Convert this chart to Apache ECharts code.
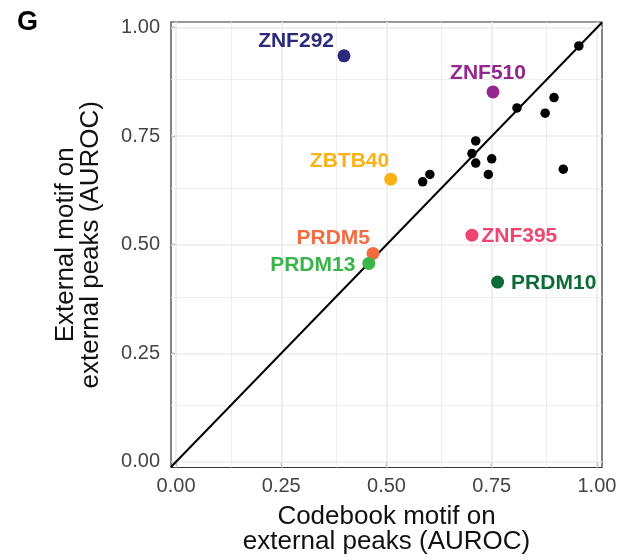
<!DOCTYPE html>
<html>
<head>
<meta charset="utf-8">
<script src="https://cdn.jsdelivr.net/npm/echarts@6/dist/echarts.min.js"></script>
<style>
  html, body { margin: 0; padding: 0; background: #fff; }
  #chart { width: 623px; height: 560px; }
</style>
</head>
<body>
<div id="chart"></div>
<script>
// other TFs (black points)
var otherX = [0.957, 0.810, 0.898, 0.877, 0.712, 0.703, 0.712, 0.750, 0.742, 0.920, 0.603, 0.586]
var otherY = [0.958, 0.815, 0.839, 0.803, 0.739, 0.710, 0.688, 0.698, 0.662, 0.674, 0.662, 0.645]

// highlighted TFs
var tfNames = ['ZNF292', 'ZNF510', 'ZBTB40', 'ZNF395', 'PRDM5', 'PRDM13', 'PRDM10']
var tfX = [0.399, 0.753, 0.510, 0.703, 0.468, 0.458, 0.764]
var tfY = [0.935, 0.852, 0.651, 0.522, 0.480, 0.457, 0.414]
var tfColors = ['#2D2A7B', '#93278F', '#FBB216', '#EE4571', '#F26C3F', '#3AB54A', '#0C6B37']

var tickValues = [0, 0.25, 0.5, 0.75, 1]
var minorValues = [0.125, 0.375, 0.625, 0.875]

// where each name sits next to its point (style only)
var labelPlace = {
  ZNF292: { align: 'right', offset: [-10, -14.5] },
  ZNF510: { align: 'center', offset: [-5, -18.5] },
  ZBTB40: { align: 'right', offset: [-1.5, -18] },
  ZNF395: { align: 'left', offset: [9.5, 1.5] },
  PRDM5: { align: 'right', offset: [-3, -15] },
  PRDM13: { align: 'right', offset: [-13.5, 2] },
  PRDM10: { align: 'left', offset: [13.5, 1.5] }
}

var xMin = -0.012, xMax = 1.012
var yMin = -0.013, yMax = 1.013
var font = '"Liberation Sans", Arial, Helvetica, sans-serif'

var gridLines = []
tickValues.forEach(function(v) {
  gridLines.push({ xAxis: v, lineStyle: { width: 1.6 } })
  gridLines.push({ yAxis: v, lineStyle: { width: 1.6 } })
})
minorValues.forEach(function(v) {
  gridLines.push({ xAxis: v, lineStyle: { width: 0.8 } })
  gridLines.push({ yAxis: v, lineStyle: { width: 0.8 } })
})

var chart = echarts.init(document.getElementById('chart'), null, { renderer: 'canvas' })

chart.setOption({
  animation: false,
  backgroundColor: '#fff',
  textStyle: { fontFamily: font },
  graphic: [{
    type: 'text',
    left: 17,
    top: 9,
    style: { text: 'G', font: 'bold 27px ' + font, fill: '#000' }
  }],
  grid: {
    left: 171,
    right: 21,
    top: 22,
    bottom: 92,
    show: true,
    borderColor: '#333',
    borderWidth: 1.2,
    backgroundColor: 'transparent'
  },
  xAxis: {
    type: 'value',
    min: xMin,
    max: xMax,
    name: 'Codebook motif on\nexternal peaks (AUROC)',
    nameLocation: 'middle',
    nameGap: 37,
    nameTextStyle: { fontSize: 26, lineHeight: 25, color: '#111', fontFamily: font },
    axisLine: { show: false },
    splitLine: { show: false },
    axisTick: {
      show: true,
      customValues: tickValues,
      length: 5,
      lineStyle: { color: '#333', width: 1.2 }
    },
    axisLabel: {
      customValues: tickValues,
      margin: 9,
      fontSize: 20,
      color: '#444',
      fontFamily: font,
      formatter: function(v) { return v.toFixed(2) }
    }
  },
  yAxis: {
    type: 'value',
    min: yMin,
    max: yMax,
    name: 'External motif on\nexternal peaks (AUROC)',
    nameLocation: 'middle',
    nameGap: 68,
    nameTextStyle: { fontSize: 26, lineHeight: 25, color: '#111', fontFamily: font },
    axisLine: { show: false },
    splitLine: { show: false },
    axisTick: {
      show: true,
      customValues: tickValues,
      length: 5,
      lineStyle: { color: '#333', width: 1.2 }
    },
    axisLabel: {
      customValues: tickValues,
      margin: 11,
      fontSize: 20,
      color: '#444',
      fontFamily: font,
      formatter: function(v) { return v.toFixed(2) }
    }
  },
  series: [
    {
      // background grid, kept on the bottom layer
      type: 'line',
      data: [],
      zlevel: 0,
      z: 1,
      silent: true,
      markLine: {
        silent: true,
        symbol: 'none',
        label: { show: false },
        lineStyle: { color: '#EBEBEB', type: 'solid' },
        data: gridLines
      }
    },
    {
      // y = x
      type: 'line',
      zlevel: 1,
      z: 3,
      silent: true,
      showSymbol: false,
      data: [[xMin, xMin], [xMax, xMax]],
      lineStyle: { color: '#000', width: 2 }
    },
    {
      type: 'scatter',
      zlevel: 1,
      z: 4,
      symbolSize: 9.5,
      itemStyle: { color: '#000', opacity: 1 },
      data: otherX.map(function(x, i) { return [x, otherY[i]] })
    },
    {
      type: 'scatter',
      zlevel: 1,
      z: 5,
      symbolSize: 13,
      data: tfNames.map(function(name, i) {
        var p = labelPlace[name]
        return {
          name: name,
          value: [tfX[i], tfY[i]],
          itemStyle: { color: tfColors[i], opacity: 1 },
          label: {
            show: true,
            formatter: name,
            position: ['50%', '50%'],
            align: p.align,
            verticalAlign: 'middle',
            offset: p.offset,
            color: tfColors[i],
            fontSize: 21,
            fontWeight: 'bold',
            fontFamily: font
          }
        }
      })
    }
  ]
})
</script>
</body>
</html>
